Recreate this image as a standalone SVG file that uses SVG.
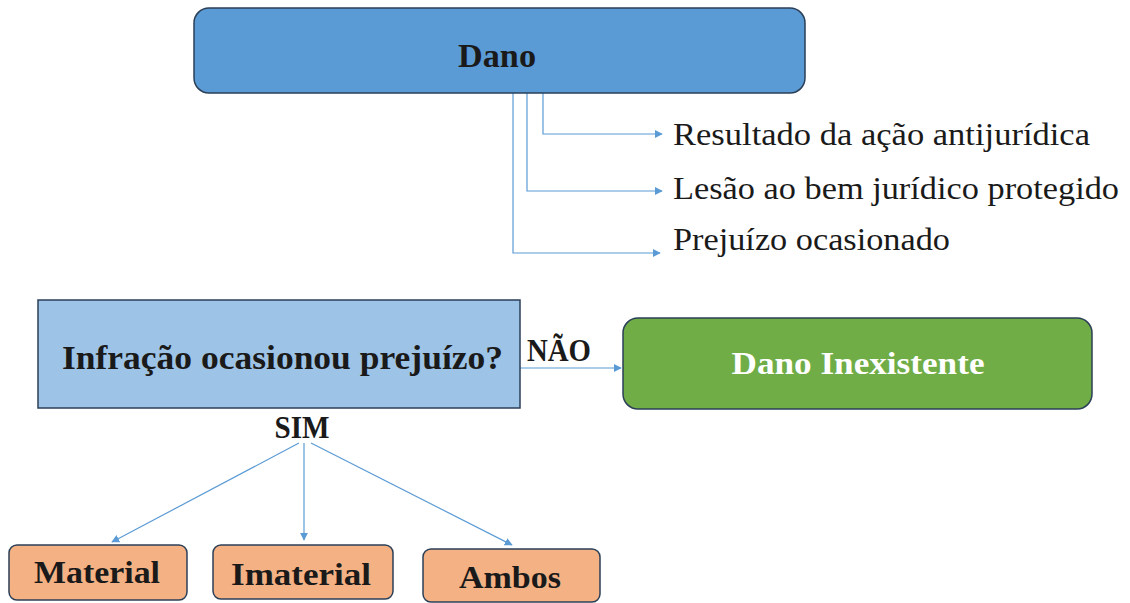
<svg xmlns="http://www.w3.org/2000/svg" width="1130" height="603" viewBox="0 0 1130 603">
<style>
.box{stroke:#2B3F57;stroke-width:1.5}
.t{font-family:"Liberation Serif","DejaVu Serif",serif;fill:#1a1a1a}
.b{font-weight:bold}
.c{stroke:#5B9BD5;stroke-width:1.2;fill:none}
</style>
<defs>
<marker id="ah" viewBox="0 0 10 10" refX="9" refY="5" markerWidth="8" markerHeight="8" markerUnits="userSpaceOnUse" orient="auto">
<path d="M0,0 L10,5 L0,10 Z" fill="#5B9BD5"/>
</marker>
</defs>
<rect width="1130" height="603" fill="#fff"/>
<g id="connectors">
<polyline class="c" points="543,93 543,134 662,134" marker-end="url(#ah)"/>
<polyline class="c" points="527,93 527,191 662,191" marker-end="url(#ah)"/>
<polyline class="c" points="513,93 513,253 660,253" marker-end="url(#ah)"/>
<line class="c" x1="520" y1="368" x2="621" y2="368" marker-end="url(#ah)"/>
<line class="c" x1="299" y1="443" x2="112" y2="542" marker-end="url(#ah)"/>
<line class="c" x1="304" y1="443" x2="304" y2="540" marker-end="url(#ah)"/>
<line class="c" x1="311" y1="443" x2="512" y2="545" marker-end="url(#ah)"/>
</g>
<g id="dano">
<rect class="box" x="194" y="8" width="611" height="85" rx="15" fill="#5B9BD5"/>
<text class="t b" x="497" y="67" font-size="33" text-anchor="middle" textLength="78" lengthAdjust="spacingAndGlyphs">Dano</text>
</g>
<g id="resultado">
<text class="t" x="673" y="145" font-size="32" textLength="417" lengthAdjust="spacingAndGlyphs">Resultado da ação antijurídica</text>
</g>
<g id="lesao">
<text class="t" x="673" y="199" font-size="32" textLength="446" lengthAdjust="spacingAndGlyphs">Lesão ao bem jurídico protegido</text>
</g>
<g id="prejuizo">
<text class="t" x="673" y="250" font-size="32" textLength="277" lengthAdjust="spacingAndGlyphs">Prejuízo ocasionado</text>
</g>
<g id="infracao">
<rect class="box" x="38" y="300" width="482" height="108" fill="#9DC3E6"/>
<text class="t b" x="62" y="369" font-size="33" textLength="441" lengthAdjust="spacingAndGlyphs">Infração ocasionou prejuízo?</text>
</g>
<g id="nao-label">
<text class="t b" x="527" y="361" font-size="31" textLength="64" lengthAdjust="spacingAndGlyphs">NÃO</text>
</g>
<g id="inexistente">
<rect class="box" x="623" y="318" width="469" height="91" rx="15" fill="#70AD47"/>
<text class="t b" x="858" y="374" font-size="32" text-anchor="middle" style="fill:#ffffff" textLength="253" lengthAdjust="spacingAndGlyphs">Dano Inexistente</text>
</g>
<g id="sim-label">
<text class="t b" x="302" y="438" font-size="31" text-anchor="middle" textLength="55" lengthAdjust="spacingAndGlyphs">SIM</text>
</g>
<g id="material">
<rect class="box" x="9" y="545" width="178" height="55" rx="8" fill="#F4B183"/>
<text class="t b" x="97" y="583" font-size="32" text-anchor="middle" textLength="126" lengthAdjust="spacingAndGlyphs">Material</text>
</g>
<g id="imaterial">
<rect class="box" x="213" y="545" width="180" height="54" rx="8" fill="#F4B183"/>
<text class="t b" x="301" y="585" font-size="32" text-anchor="middle" textLength="140" lengthAdjust="spacingAndGlyphs">Imaterial</text>
</g>
<g id="ambos">
<rect class="box" x="423" y="549" width="177" height="53" rx="8" fill="#F4B183"/>
<text class="t b" x="510" y="588" font-size="32" text-anchor="middle" textLength="102" lengthAdjust="spacingAndGlyphs">Ambos</text>
</g>
</svg>
